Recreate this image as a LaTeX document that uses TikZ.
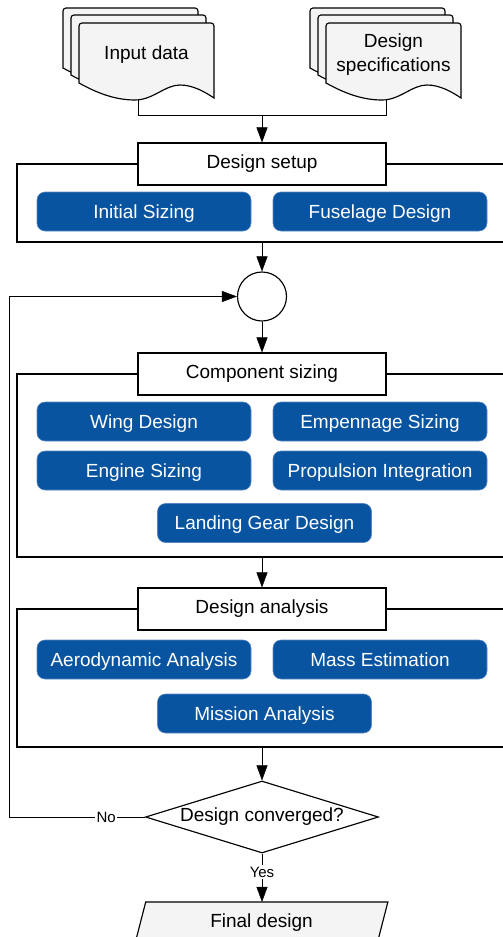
\documentclass[tikz,border=0pt]{standalone}
\usepackage{fontspec}
\setmainfont{Liberation Sans}
\usetikzlibrary{arrows.meta,shapes.geometric}
\pgfdeclarelayer{background}
\pgfsetlayers{background,main}
\definecolor{boxblue}{RGB}{8,84,160}
\definecolor{boxedge}{RGB}{90,135,195}
\definecolor{paper}{RGB}{244,244,244}

% one sheet of a document stack, top-left corner at the scope origin
\newcommand\docsheet{%
  \draw[docsheetstyle] (0,60) [rounded corners=3pt] -- (0,0) -- (135,0) -- (135,10)
    [sharp corners] -- (135,75)
    .. controls (126,69) and (114,62) .. (101,62)
    .. controls (86,62) and (74,77) .. (56,77)
    .. controls (36,77) and (18,70) .. (0,60) -- cycle;}

\begin{document}
\begin{tikzpicture}[x=1pt,y=-1pt,
  line width=1.15pt,
  every node/.style={font=\fontsize{19}{22}\selectfont},
  arr/.style={-{Triangle[length=15pt,width=11pt]}},
  stage/.style={draw, fill=white, minimum width=248pt, minimum height=42pt, inner sep=0pt},
  groupframe/.style={draw, inner sep=0pt},
  task/.style={fill=boxblue, draw=boxedge, line width=0.6pt, rounded corners=8pt,
    text=white, minimum width=214pt, minimum height=39pt, inner sep=0pt,
    text height=15pt, text depth=2pt},
  docsheetstyle/.style={draw, fill=paper, line width=1.15pt},
  lbl/.style={fill=white, inner sep=1.5pt, font=\fontsize{15}{17}\selectfont}
]
\useasboundingbox (0,0) rectangle (503,937);
\clip (0,0) rectangle (503,937);

% input document stacks
\begin{scope}[shift={(63,8)}]\docsheet\end{scope}
\begin{scope}[shift={(71,15)}]\docsheet\end{scope}
\begin{scope}[shift={(79,23)}]\docsheet\end{scope}
\begin{scope}[shift={(310,8)}]\docsheet\end{scope}
\begin{scope}[shift={(318,15)}]\docsheet\end{scope}
\begin{scope}[shift={(326,23)}]\docsheet\end{scope}
\node (indata) at (146.5,55) {Input data};
\node[align=center, font=\fontsize{19}{24}\selectfont] (specs) at (393.5,55) {Design\\specifications};
\coordinate (inbot) at (138,100);
\coordinate (specbot) at (386,100);
\coordinate (merge) at (262,115);

% design setup group
\node[groupframe, minimum width=520pt, minimum height=78pt] (f1) at (277,203) {};
\node[stage] (setup) at (262,164) {Design setup};
\node[task] (init) at (144,211.5) {Initial Sizing};
\node[task] (fus) at (380,211.5) {Fuselage Design};

% iteration junction
\node[draw, fill=white, circle, minimum size=49pt, inner sep=0pt] (junction) at (262,296.5) {};

% component sizing group
\node[groupframe, minimum width=520pt, minimum height=183pt] (f2) at (277,465.5) {};
\node[stage] (comp) at (262,374) {Component sizing};
\node[task] (wing) at (144,421.5) {Wing Design};
\node[task] (emp) at (380,421.5) {Empennage Sizing};
\node[task] (eng) at (144,470.5) {Engine Sizing};
\node[task] (prop) at (380,470.5) {Propulsion Integration};
\node[task] (gear) at (264.5,523) {Landing Gear Design};

% design analysis group
\node[groupframe, minimum width=520pt, minimum height=138pt] (f3) at (277,678) {};
\node[stage] (ana) at (262,609) {Design analysis};
\node[task] (aero) at (144,659.5) {Aerodynamic Analysis};
\node[task] (mass) at (380,659.5) {Mass Estimation};
\node[task] (miss) at (264.5,713.5) {Mission Analysis};

% convergence check
\node[draw, fill=white, diamond, aspect=3.24, inner sep=0pt,
  minimum width=233pt, minimum height=72pt] (conv) at (262,817) {Design converged?};

% final output
\node[minimum width=241pt, minimum height=40pt, inner sep=0pt] (final) at (261.5,922.5) {Final design};
\begin{pgfonlayer}{background}
\draw[docsheetstyle] ([xshift=5.3pt]final.north west) -- ([xshift=5.3pt]final.north east)
  -- ([xshift=-5.3pt]final.south east) -- ([xshift=-5.3pt]final.south west) -- cycle;
\end{pgfonlayer}

% connectors
\draw (inbot) |- (merge);
\draw (specbot) |- (merge);
\draw[arr] (merge) -- (setup.north);
\draw[arr] (f1.south -| junction) -- (junction.north);
\draw[arr] (junction.south) -- (comp.north);
\draw[arr] (f2.south -| ana) -- (ana.north);
\draw[arr] (f3.south -| conv) -- (conv.north);
\coordinate (loopback) at (9,817);
\draw[arr] (conv.west) -- node[lbl, pos=0.285] {No} (loopback) |- (junction.west);
\draw[arr] (conv.south) -- node[lbl, pos=0.38] {Yes} (conv.south |- final.north);
\end{tikzpicture}
\end{document}
